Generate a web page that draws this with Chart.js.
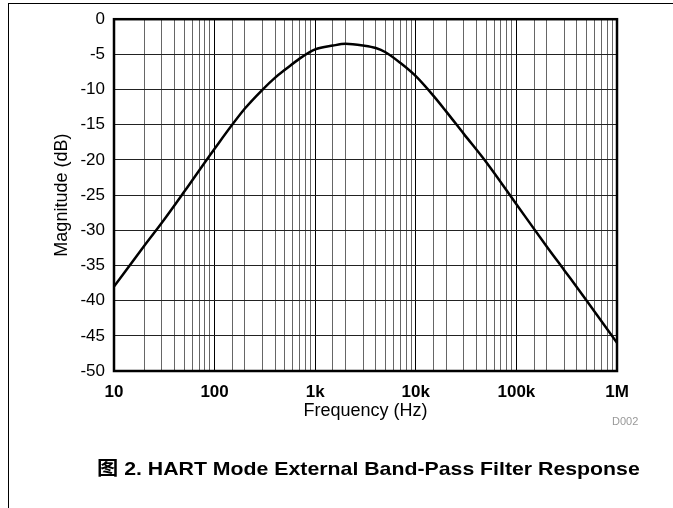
<!DOCTYPE html>
<html>
<head>
<meta charset="utf-8">
<script src="https://cdn.jsdelivr.net/npm/chart.js@4.4.1/dist/chart.umd.min.js"></script>
<style>
  html, body { margin: 0; padding: 0; background: #fff; }
  #wrap { position: relative; width: 673px; height: 508px; overflow: hidden; }
  #frame { position: absolute; left: 8px; top: 3px; right: 0; bottom: 0;
           border-left: 1px solid #000; border-top: 1px solid #000; }
  #chartFilter { position: absolute; left: 0; top: 0; }
  #code { position: absolute; left: 612px; top: 415px; font: 11px "Liberation Sans", Arial, sans-serif; color: #999; }
  #caption { position: absolute; left: 97px; top: 453px; white-space: nowrap;
             transform: scaleX(1.12); transform-origin: left top;
             font: bold 19px "Liberation Sans", "Noto Sans CJK SC", Arial, sans-serif; color: #000; }
</style>
</head>
<body>
<div id="wrap">
  <div id="frame"></div>
  <canvas id="chartFilter" width="673" height="508"></canvas>
  <div id="code">D002</div>
  <div id="caption">图 2. HART Mode External Band-Pass Filter Response</div>
</div>
<script>
// frequency (Hz) and magnitude (dB)
const freqHz = [10, 20, 30, 50, 100, 200, 300, 400, 500, 700, 1000, 1500, 2000, 3000, 4000,
                5000, 7000, 10000, 15000, 20000, 30000, 50000, 100000, 200000, 300000, 500000, 1000000];
const magnitudeDb = [-38.0, -32.2, -28.9, -24.5, -18.4, -12.7, -10.0, -8.3, -7.2, -5.6, -4.3, -3.75, -3.5, -3.75, -4.1,
                     -4.7, -6.2, -8.1, -10.9, -13.1, -16.3, -20.3, -26.3, -32.3, -35.7, -40.0, -46.0];

const tickValues = [10, 100, 1000, 10000, 100000, 1000000];
const tickLabels = ['10', '100', '1k', '10k', '100k', '1M'];

const FONT = '"Liberation Sans", Arial, sans-serif';

function isDecade(v) {
    return tickValues.indexOf(v) !== -1;
}

// thick box around plot area
const plotBorder = {
    id: 'plotBorder',
    afterDraw(chart) {
        const a = chart.chartArea;
        const ctx = chart.ctx;
        ctx.save();
        ctx.strokeStyle = '#000';
        ctx.lineWidth = 2.5;
        ctx.strokeRect(a.left, a.top, a.right - a.left, a.bottom - a.top);
        ctx.restore();
    }
};

const ctx = document.getElementById('chartFilter').getContext('2d');
const chartFilter = new Chart(ctx, {
    type: 'line',
    data: {
        datasets: [{
            label: 'Magnitude',
            data: freqHz.map((f, i) => ({ x: f, y: magnitudeDb[i] })),
            borderColor: '#000',
            borderWidth: 2.5,
            pointRadius: 0,
            fill: false,
            cubicInterpolationMode: 'monotone'
        }]
    },
    options: {
        responsive: false,
        animation: false,
        devicePixelRatio: 1,
        layout: { padding: { left: 0, top: 16, right: 56, bottom: 0 } },
        plugins: { legend: { display: false }, tooltip: { enabled: false } },
        scales: {
            x: {
                type: 'logarithmic',
                min: 10,
                max: 1000000,
                afterFit: s => { s.height = 137; },
                grid: {
                    drawTicks: false,
                    color: c => isDecade(c.tick.value) ? '#000' : '#666',
                    lineWidth: 1
                },
                border: { display: false },
                ticks: {
                    autoSkip: false,
                    maxRotation: 0,
                    padding: 11,
                    color: '#000',
                    font: { family: FONT, size: 17, weight: 'bold' },
                    callback: v => {
                        const i = tickValues.indexOf(v);
                        return i === -1 ? '' : tickLabels[i];
                    }
                },
                title: {
                    display: true,
                    text: 'Frequency (Hz)',
                    color: '#000',
                    font: { family: FONT, size: 18 },
                    padding: { top: 0, bottom: 86 }
                }
            },
            y: {
                min: -50,
                max: 0,
                afterFit: s => { s.width = 114; },
                grid: { drawTicks: false, color: '#222', lineWidth: 1 },
                border: { display: false },
                ticks: {
                    stepSize: 5,
                    padding: 9,
                    color: '#000',
                    font: { family: FONT, size: 17 }
                },
                title: {
                    display: true,
                    text: 'Magnitude (dB)',
                    color: '#000',
                    font: { family: FONT, size: 18 },
                    padding: { top: 51, bottom: 0 }
                }
            }
        }
    },
    plugins: [plotBorder]
});
</script>
</body>
</html>
